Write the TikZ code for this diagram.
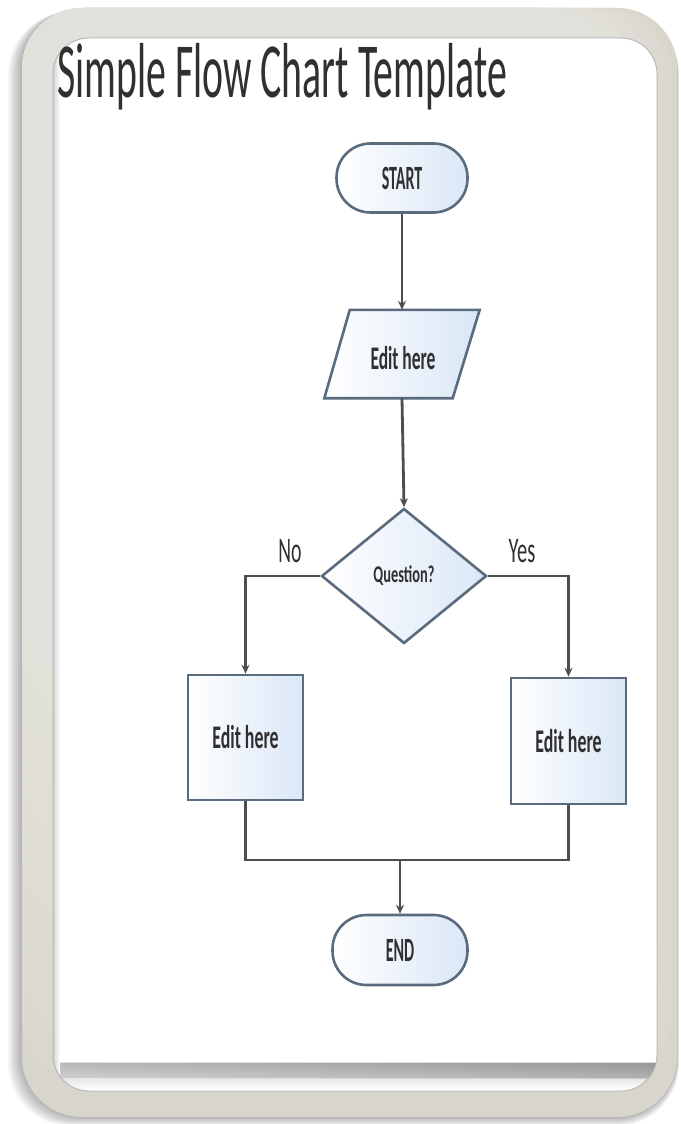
\documentclass[tikz,border=0pt]{standalone}
\usepackage{fontspec}
\setmainfont{Carlito}
\usetikzlibrary{shapes.geometric,arrows.meta,calc}

\definecolor{framedark}{RGB}{214,211,201}
\definecolor{framelight}{RGB}{233,232,226}
\definecolor{edgec}{RGB}{90,107,125}
\definecolor{fillc}{RGB}{218,231,246}
\definecolor{linec}{RGB}{78,78,78}
\definecolor{txtc}{RGB}{48,48,48}

\newcommand{\squeezed}[2]{\scalebox{#1}[1]{#2}}

\tikzset{
  shape base/.style={draw=edgec, line width=2.6pt, left color=white, right color=fillc,
    inner sep=0pt, text=txtc},
  terminal/.style={shape base, rectangle, rounded corners=34pt},
  decision/.style={shape base, diamond, aspect=1.22},
  process/.style={shape base, rectangle},
  ioframe/.style={rectangle, inner sep=0pt, text=txtc},
  flow/.style={draw=linec, line width=2.8pt, -{Stealth[length=9pt,width=8pt]}},
  link/.style={draw=linec, line width=2.8pt},
  branch/.style={text=txtc, inner sep=0pt}
}

\begin{document}
\begin{tikzpicture}[x=1pt,y=-1pt]
\useasboundingbox (0,0) rectangle (680,1124);
\fill[white] (0,0) rectangle (680,1124);

% soft shadow round the frame
\foreach \i in {1,...,10}
  \fill[black, opacity=0.03, rounded corners=62pt]
    (22-1.4*\i,8+0.4*\i) rectangle (677+0.2*\i,1117+0.9*\i);

% frame and white panel
\fill[framedark, rounded corners=60pt] (22,8) rectangle (677,1117);
\foreach \k in {0,...,20}
  \fill[framelight, opacity=0.12, rounded corners=60pt]
    (22,8) rectangle (677-6*\k,1117-40*\k);
\fill[white, rounded corners=36pt] (53,38) rectangle (657,1091);
\begin{scope}
  \clip[rounded corners=36pt] (53,38) rectangle (657,1091);
  % curled lower edge of the sheet
  \foreach \k in {0,...,26}
    \fill[black, opacity={0.22*(1-\k/27)}] (53,1063+\k) rectangle (657,1064+\k);
  \fill[left color=white, right color=black, opacity=0.12] (53,1063) rectangle (657,1078);
  \draw[gray!25, line width=1pt] (53,1062) -- (657,1062);
  \fill[left color=gray!35, right color=white] (53,38) rectangle (60,1091);
\end{scope}
\draw[gray!55, line width=1pt, rounded corners=36pt] (53,38) rectangle (657,1091);

% heading
\node[anchor=base west, text=txtc, inner sep=0pt] (title) at (57,97)
  {\fontsize{78}{80}\selectfont\squeezed{0.51}{Simple Flow Chart Template}};

% nodes
\node[terminal, minimum width=131pt, minimum height=69pt] (start) at (402,178)
  {\fontsize{34}{36}\selectfont\bfseries\squeezed{0.47}{START}};

\node[ioframe, minimum width=127pt, minimum height=88pt] (input) at (402,354) {};
\path[shape base] ($(input.north west)+(11.5,0)$) -- ($(input.north east)+(14,0)$)
  -- ($(input.south east)+(-13,0)$) -- ($(input.south west)+(-14,0)$) -- cycle;
\node[text=txtc, inner sep=0pt] (inputtext) at (403,358)
  {\fontsize{33}{35}\selectfont\bfseries\squeezed{0.53}{Edit here}};

\node[decision, minimum width=165pt, minimum height=135pt] (ask) at (404,576)
  {\fontsize{24}{26}\selectfont\bfseries\squeezed{0.6}{Question?}};

\node[process, minimum width=115pt, minimum height=125pt] (left) at (245.5,737.5)
  {\fontsize{33}{35}\selectfont\bfseries\squeezed{0.54}{Edit here}};
\node[process, minimum width=115pt, minimum height=126pt] (right) at (568.5,741)
  {\fontsize{33}{35}\selectfont\bfseries\squeezed{0.54}{Edit here}};

\node[terminal, minimum width=135pt, minimum height=70pt] (finish) at (400,950)
  {\fontsize{34}{36}\selectfont\bfseries\squeezed{0.47}{END}};

\coordinate (join) at (400,860);

% connectors
\draw[flow] (start.south) -- (start.south |- input.north);
\draw[flow] (input.south) -- (ask.north);
\draw[flow] (ask.west) -| (left.north);
\draw[flow] (ask.east) -| (right.north);
\draw[link] (left.south) |- (join) -| (right.south);
\draw[flow] (join) -- (finish.north);

% branch labels
\node[branch] (no) at (290,551) {\fontsize{36}{38}\selectfont\squeezed{0.55}{No}};
\node[branch] (yes) at (522,551) {\fontsize{36}{38}\selectfont\squeezed{0.57}{Yes}};
\end{tikzpicture}
\end{document}
